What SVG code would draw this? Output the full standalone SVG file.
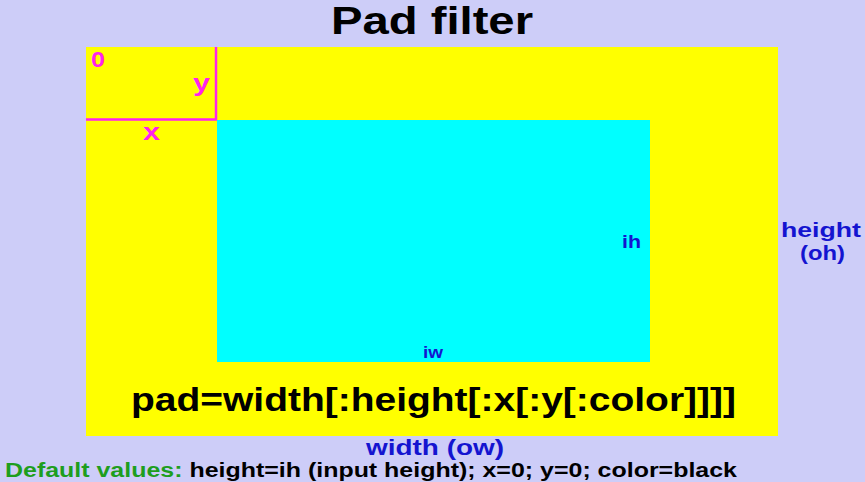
<svg xmlns="http://www.w3.org/2000/svg" width="865" height="482" viewBox="0 0 865 482">
<style>
text{font-family:"Liberation Sans",Arial,sans-serif;font-weight:bold}
.m{fill:#ff22ee}
.b{fill:#1414d0}
</style>
<rect width="865" height="482" fill="#cdcdf8"/>
<text x="331" y="34" font-size="39" fill="#000" textLength="202" lengthAdjust="spacingAndGlyphs">Pad filter</text>
<g id="output">
<rect x="86" y="47" width="692" height="389" fill="#ffff00"/>
</g>
<g id="input">
<rect x="217" y="120" width="433" height="242" fill="#00ffff"/>
<text x="622" y="248" font-size="18" class="b" textLength="19" lengthAdjust="spacingAndGlyphs">ih</text>
<text x="423" y="358" font-size="16" class="b" textLength="20" lengthAdjust="spacingAndGlyphs">iw</text>
</g>
<g id="offset">
<line x1="216" y1="47" x2="216" y2="120" stroke="#ff22ee" stroke-width="2.5"/>
<line x1="86" y1="119.5" x2="217" y2="119.5" stroke="#ff22ee" stroke-width="2.5"/>
<text x="91" y="67" font-size="22" class="m" textLength="14" lengthAdjust="spacingAndGlyphs">0</text>
<text x="193" y="91" font-size="24" class="m" textLength="17" lengthAdjust="spacingAndGlyphs">y</text>
<text x="143" y="140" font-size="23" class="m" textLength="17" lengthAdjust="spacingAndGlyphs">x</text>
</g>
<text x="131" y="411" font-size="34" fill="#000" textLength="605" lengthAdjust="spacingAndGlyphs">pad=width[:height[:x[:y[:color]]]]</text>
<text x="781" y="237" font-size="20" class="b" textLength="80" lengthAdjust="spacingAndGlyphs">height</text>
<text x="800" y="260" font-size="20" class="b" textLength="45" lengthAdjust="spacingAndGlyphs">(oh)</text>
<text x="366" y="455" font-size="22" class="b" textLength="138" lengthAdjust="spacingAndGlyphs">width (ow)</text>
<text x="5" y="477" font-size="20" fill="#000" textLength="732" lengthAdjust="spacingAndGlyphs"><tspan fill="#1e9e1e">Default values:</tspan> height=ih (input height); x=0; y=0; color=black</text>
</svg>
